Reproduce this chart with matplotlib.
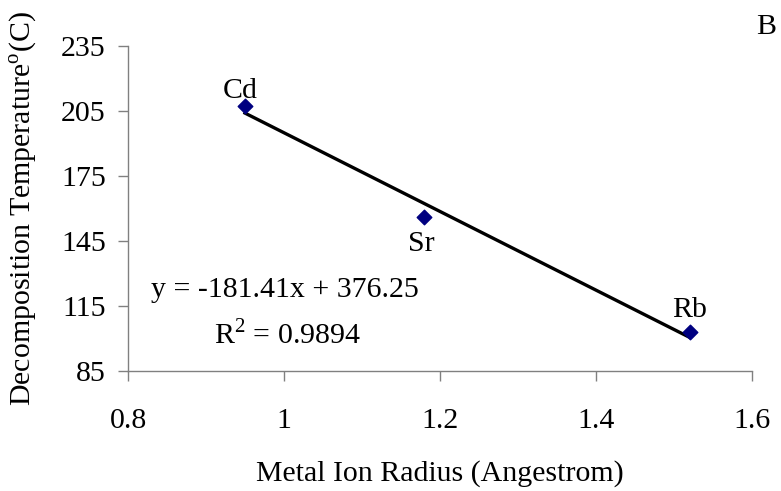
import matplotlib
matplotlib.use("Agg")
import matplotlib.pyplot as plt
import numpy as np

plt.rcParams['font.family'] = ['Liberation Serif', 'DejaVu Serif']
plt.rcParams['mathtext.fontset'] = 'custom'
plt.rcParams['mathtext.rm'] = 'Liberation Serif'

# Metal ion radius (Angstrom) and decomposition temperature (C)
metals = ["Cd", "Sr", "Rb"]
radius = [0.95, 1.18, 1.52]
temperature = [207, 156, 103]

# Linear trendline coefficients
slope = -181.41
intercept = 376.25
r_squared = 0.9894

x_ticks = [0.8, 1.0, 1.2, 1.4, 1.6]
x_tick_labels = ["0.8", "1", "1.2", "1.4", "1.6"]
y_ticks = [85, 115, 145, 175, 205, 235]

FS = 21.5

fig = plt.figure(figsize=(7.81, 4.91), dpi=100)
ax = fig.add_axes([0.1639, 0.2444, 0.799, 0.6626])

xf = np.array([min(radius), max(radius)])
ax.plot(xf, slope * xf + intercept, color='black', lw=2.4, zorder=2)
ax.scatter(radius, temperature, marker='D', s=55, color='#000080', zorder=3)

label_offsets = {"Cd": (-5, 15), "Sr": (-3, -27), "Rb": (0, 22)}
for name, x, y in zip(metals, radius, temperature):
    dx, dy = label_offsets[name]
    ax.annotate(name, (x, y), xytext=(dx, dy), textcoords='offset pixels',
                ha='center', va='center', fontsize=FS)

ax.text(0.252, 0.25, f"y = {slope:.2f}x + {intercept:.2f}", transform=ax.transAxes,
        ha='center', va='center', fontsize=FS)
ax.text(0.255, 0.11, f"R$^2$ = {r_squared:.4f}", transform=ax.transAxes,
        ha='center', va='center', fontsize=FS)

ax.set_xlim(0.8, 1.6)
ax.set_ylim(85, 235)
ax.set_xticks(x_ticks)
ax.set_xticklabels(x_tick_labels)
ax.set_yticks(y_ticks)

for s in ['top', 'right']:
    ax.spines[s].set_visible(False)
for s in ['left', 'bottom']:
    ax.spines[s].set_color('#808080')
    ax.spines[s].set_linewidth(1.0)

ax.tick_params(axis='both', direction='out', length=7, width=1.0, color='#808080',
               labelsize=FS, labelcolor='black')
ax.tick_params(axis='x', pad=20)
ax.tick_params(axis='y', pad=9)

ax.set_xlabel("Metal Ion Radius (Angestrom)", fontsize=FS)
ax.set_ylabel("Decomposition Temperature$^{\\rm o}$(C)", fontsize=FS)
ax.xaxis.set_label_coords(0.5, -0.275)
ax.yaxis.set_label_coords(-0.143, 0.5)

fig.text(0.981, 0.945, "B", fontsize=FS, ha='center', va='center')

fig.savefig("out.png", dpi=100)
